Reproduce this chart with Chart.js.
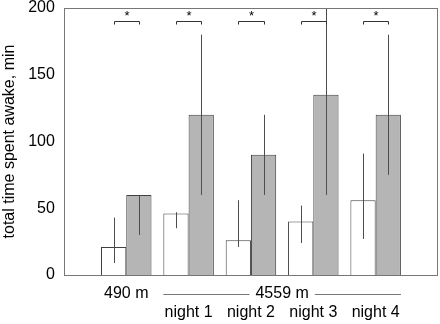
<!DOCTYPE html>
<html>
<head>
<meta charset="utf-8">
<script src="https://cdn.jsdelivr.net/npm/chart.js@4.4.0/dist/chart.umd.min.js"></script>
<style>
  html, body { margin: 0; padding: 0; background: #fff; }
  #wrap { width: 440px; height: 324px; }
</style>
</head>
<body>
<div id="wrap"><canvas id="awakeChart"></canvas></div>
<script>
// Categories (blank slots at both ends keep the outer margins)
const altitudeLabels = ["", "490 m", "", "", "", "", ""];
const nightLabels = ["", "", "night 1", "night 2", "night 3", "night 4", ""];
const groupLabel = "4559 m";

// White bars (first series) and their error bars
const whiteMeans = [null, 21, 46, 26, 40, 56, null];
const whiteLow = [null, 9, 35, 21, 24, 27, null];
const whiteHigh = [null, 43, 47, 56, 52, 91, null];

// Grey bars (second series) and their error bars
const greyMeans = [null, 60, 120, 90, 135, 120, null];
const greyLow = [null, 30, 60, 60, 60, 75, null];
const greyHigh = [null, 60, 180, 120, 200, 180, null];

// Significance markers above each pair
const significance = ["", "*", "*", "*", "*", "*", ""];
const bracketValue = 190;

const yTicks = [0, 50, 100, 150, 200];

const FONT = "'Liberation Sans', Arial, sans-serif";

// Draws the error bars, brackets, frame and the 4559 m group label
const extrasPlugin = {
  id: "extras",
  afterDatasetsDraw(chart) {
    const ctx = chart.ctx;
    const area = chart.chartArea;
    const y = chart.scales.y;
    const whiteMeta = chart.getDatasetMeta(0);
    const greyMeta = chart.getDatasetMeta(1);

    ctx.save();
    ctx.beginPath();
    ctx.rect(area.left, area.top - 1, area.right - area.left, area.bottom - area.top + 2);
    ctx.clip();
    ctx.strokeStyle = "#4d4d4d";
    ctx.lineWidth = 1;
    const drawErr = (meta, lo, hi) => {
      meta.data.forEach((bar, i) => {
        if (lo[i] == null) return;
        const x = Math.round(bar.x) + 0.5;
        ctx.beginPath();
        ctx.moveTo(x, y.getPixelForValue(lo[i]));
        ctx.lineTo(x, y.getPixelForValue(hi[i]));
        ctx.stroke();
      });
    };
    drawErr(whiteMeta, whiteLow, whiteHigh);
    drawErr(greyMeta, greyLow, greyHigh);

    // significance brackets
    ctx.strokeStyle = "#333";
    ctx.fillStyle = "#000";
    ctx.font = "13px " + FONT;
    ctx.textAlign = "center";
    ctx.textBaseline = "middle";
    significance.forEach((mark, i) => {
      if (!mark) return;
      const x1 = Math.round(whiteMeta.data[i].x) + 0.5;
      const x2 = Math.round(greyMeta.data[i].x) + 0.5;
      const by = Math.round(y.getPixelForValue(bracketValue)) + 0.5;
      ctx.beginPath();
      ctx.moveTo(x1, by + 3);
      ctx.lineTo(x1, by);
      ctx.lineTo(x2, by);
      ctx.lineTo(x2, by + 3);
      ctx.stroke();
      ctx.fillText(mark, (x1 + x2) / 2, by - 5);
    });
    ctx.restore();

    // frame around the plot
    ctx.save();
    ctx.strokeStyle = "#777";
    ctx.lineWidth = 1;
    ctx.strokeRect(Math.round(area.left) + 0.5, Math.round(area.top) + 0.5,
      Math.round(area.right - area.left) - 1, Math.round(area.bottom - area.top));

    // group label for the high-altitude nights
    const first = whiteMeta.data[2];
    const last = greyMeta.data[5];
    const xa = first.x - first.width / 2;
    const xb = last.x + last.width / 2;
    const cx = (xa + xb) / 2;
    const ly = area.bottom + 18.5;
    ctx.font = "16px " + FONT;
    const tw = ctx.measureText(groupLabel).width;
    ctx.fillStyle = "#000";
    ctx.textAlign = "center";
    ctx.textBaseline = "middle";
    ctx.fillText(groupLabel, cx, ly);
    ctx.beginPath();
    ctx.moveTo(xa, Math.round(ly) + 0.5);
    ctx.lineTo(cx - tw / 2 - 6, Math.round(ly) + 0.5);
    ctx.moveTo(cx + tw / 2 + 6, Math.round(ly) + 0.5);
    ctx.lineTo(xb, Math.round(ly) + 0.5);
    ctx.stroke();
    ctx.restore();
  },
};

const labels = altitudeLabels.map((a, i) => [a, nightLabels[i]]);

new Chart(document.getElementById("awakeChart").getContext("2d"), {
  type: "bar",
  data: {
    labels: labels,
    datasets: [
      {
        data: whiteMeans,
        backgroundColor: "#ffffff",
        borderColor: "#404040",
        borderWidth: 1,
        barPercentage: 1,
        categoryPercentage: 0.81,
      },
      {
        data: greyMeans,
        backgroundColor: "#b5b5b5",
        borderColor: "#404040",
        borderWidth: 1,
        barPercentage: 1,
        categoryPercentage: 0.81,
      },
    ],
  },
  options: {
    responsive: true,
    maintainAspectRatio: false,
    animation: false,
    layout: { padding: { left: 0, right: 2, top: 0, bottom: -6.8 } },
    plugins: {
      legend: { display: false },
      tooltip: { enabled: false },
    },
    scales: {
      x: {
        offset: false,
        grid: { display: false, drawTicks: false },
        border: { display: false },
        // tick padding would otherwise widen the right margin
        afterFit: (scale) => {
          scale.paddingLeft = 0;
          scale.paddingRight = 0;
        },
        ticks: {
          color: "#000",
          padding: 9.5,
          maxRotation: 0,
          autoSkip: false,
          font: { family: FONT, size: 16, lineHeight: 1.15 },
        },
      },
      y: {
        min: 0,
        max: 200,
        afterBuildTicks: (axis) => {
          axis.ticks = yTicks.map((v) => ({ value: v }));
        },
        afterFit: (scale) => {
          scale.paddingTop = 8;
        },
        grid: { display: false, drawTicks: false },
        border: { display: false },
        ticks: {
          color: "#000",
          padding: 9,
          font: { family: FONT, size: 16, lineHeight: 0.2 },
        },
        title: {
          display: true,
          text: "total time spent awake, min",
          color: "#000",
          padding: { top: 0, bottom: 0 },
          font: { family: FONT, size: 16 },
        },
      },
    },
  },
  plugins: [extrasPlugin],
});
</script>
</body>
</html>
